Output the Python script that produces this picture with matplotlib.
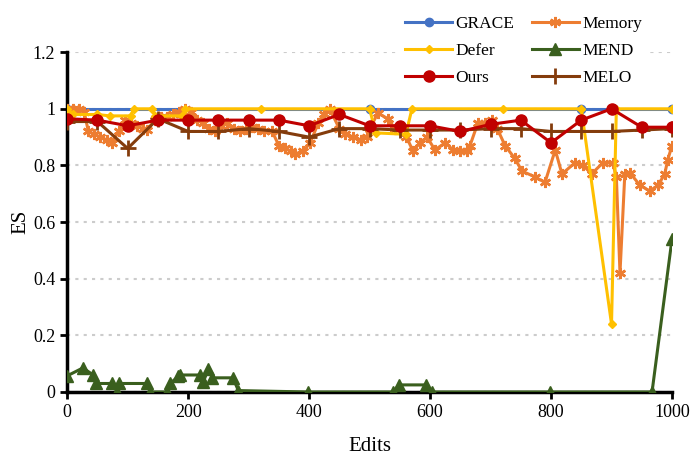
import matplotlib
matplotlib.use("Agg")
import matplotlib.pyplot as plt

plt.rcParams['font.family'] = ['Liberation Serif', 'DejaVu Serif']

grace_x = [0, 500, 850, 1000]
grace_y = [1.0, 1.0, 1.0, 1.0]

defer_x = [0, 10, 50, 70, 105, 110, 140, 145, 190, 195, 320, 500, 510, 560, 570, 720, 850, 900, 908, 1000]
defer_y = [1.0, 0.98, 0.98, 0.975, 0.975, 1.0, 1.0, 0.975, 0.975, 1.0, 1.0, 1.0, 0.915, 0.91, 1.0, 1.0, 1.0, 0.24, 1.0, 1.0]

ours_x = [0, 50, 100, 150, 200, 250, 300, 350, 400, 450, 500, 550, 600, 650, 700, 750, 800, 850, 900, 950, 1000]
ours_y = [0.965, 0.96, 0.94, 0.96, 0.96, 0.96, 0.96, 0.96, 0.94, 0.98, 0.94, 0.94, 0.94, 0.92, 0.945, 0.96, 0.88, 0.96, 1.0, 0.935, 0.935]

melo_x = [0, 50, 100, 150, 200, 250, 300, 350, 400, 450, 500, 550, 600, 650, 700, 750, 800, 850, 900, 950, 1000]
melo_y = [0.955, 0.955, 0.86, 0.965, 0.92, 0.92, 0.93, 0.92, 0.9, 0.93, 0.93, 0.925, 0.925, 0.925, 0.93, 0.93, 0.92, 0.92, 0.92, 0.925, 0.93]

mend_x = [0, 26, 43, 48, 74, 83, 86, 132, 137, 165, 170, 184, 186, 220, 225, 233, 240, 274, 283, 398, 539, 549, 593, 603, 798, 967, 1000]
mend_y = [0.057, 0.085, 0.06, 0.03, 0.03, 0.0, 0.03, 0.03, 0.0, 0.0, 0.03, 0.055, 0.06, 0.06, 0.035, 0.08, 0.05, 0.05, 0.005, 0.0, 0.0, 0.025, 0.025, 0.0, 0.0, 0.0, 0.54]

memory_x = [0, 10, 20, 28, 35, 45, 55, 65, 74, 85, 95, 105, 115, 125, 132, 145, 155, 165, 175, 185, 195,
            205, 215, 225, 235, 245, 255, 265, 275, 285, 295, 305, 315, 325, 339, 350, 360, 370, 377, 390, 402,
            415, 425, 434, 450, 460, 473, 485, 495, 500, 514, 530, 542, 561, 572, 583, 595, 608, 625, 638, 650,
            661, 666, 679, 690, 702, 711, 724, 740, 752, 773, 790, 807, 818, 840, 853, 867, 886, 902, 908, 914,
            922, 930, 947, 963, 977, 988, 993, 1000]
memory_y = [1.0, 1.0, 1.0, 0.99, 0.92, 0.91, 0.9, 0.89, 0.88, 0.92, 0.96, 0.95, 0.94, 0.93, 0.925, 0.96, 0.97, 0.97, 0.98, 0.99, 1.0,
            0.99, 0.96, 0.95, 0.93, 0.92, 0.94, 0.95, 0.93, 0.92, 0.93, 0.935, 0.93, 0.92, 0.92, 0.87, 0.86, 0.85, 0.84, 0.85, 0.88,
            0.95, 0.98, 1.0, 0.93, 0.91, 0.9, 0.89, 0.9, 0.93, 0.985, 0.965, 0.93, 0.9, 0.85, 0.88, 0.9, 0.855, 0.88, 0.855, 0.85,
            0.85, 0.87, 0.95, 0.95, 0.96, 0.93, 0.87, 0.825, 0.78, 0.76, 0.74, 0.855, 0.77, 0.81, 0.8, 0.77, 0.81, 0.81, 0.76, 0.42,
            0.77, 0.775, 0.73, 0.71, 0.73, 0.77, 0.82, 0.87]

x_ticks = [0, 200, 400, 600, 800, 1000]
y_ticks = [0, 0.2, 0.4, 0.6, 0.8, 1.0, 1.2]
y_labels = ['0', '0.2', '0.4', '0.6', '0.8', '1', '1.2']

fig = plt.figure(figsize=(7, 4.7), dpi=100)
ax = fig.add_axes([0.096, 0.166, 0.864, 0.723])

lw = 2.2
l_grace, = ax.plot(grace_x, grace_y, color='#4472C4', lw=lw, marker='o', ms=6, label='GRACE', zorder=3)
l_memory, = ax.plot(memory_x, memory_y, color='#ED7D31', lw=lw, marker=(6, 2, 0), ms=8, mew=1.8, label='Memory', zorder=3)
l_defer, = ax.plot(defer_x, defer_y, color='#FFC000', lw=lw, marker='D', ms=4, label='Defer', zorder=4)
l_mend, = ax.plot(mend_x, mend_y, color='#3A5F1E', lw=lw, marker='^', ms=8, label='MEND', zorder=3)
l_ours, = ax.plot(ours_x, ours_y, color='#C00000', lw=lw, marker='o', ms=8, label='Ours', zorder=5)
l_melo, = ax.plot(melo_x, melo_y, color='#843C0C', lw=lw, marker='+', ms=11, mew=2, label='MELO', zorder=4)

ax.set_xlim(0, 1000)
ax.set_ylim(0, 1.2)
ax.set_xticks(x_ticks)
ax.set_yticks(y_ticks)
ax.set_yticklabels(y_labels)
ax.tick_params(labelsize=13, width=2, length=5, direction='out', colors='black')
ax.yaxis.grid(True, linestyle=(0, (1.5, 2.5)), color='#CCCCCC', lw=1.5)
ax.set_axisbelow(True)
for s in ['top', 'right']:
    ax.spines[s].set_visible(False)
for s in ['left', 'bottom']:
    ax.spines[s].set_linewidth(2.5)
ax.set_xlabel('Edits', fontsize=15, labelpad=12)
ax.set_ylabel('ES', fontsize=15, labelpad=2)

leg = fig.legend(handles=[l_grace, l_defer, l_ours, l_memory, l_mend, l_melo], ncol=2,
                 loc='upper left', bbox_to_anchor=(0.569, 0.98), fontsize=12.5, frameon=True,
                 handlelength=2.7, columnspacing=1.0, labelspacing=0.6, handletextpad=0.2,
                 borderpad=0.4, borderaxespad=0.0)
leg.get_frame().set_edgecolor('none')
leg.get_frame().set_facecolor('white')
leg.get_frame().set_alpha(1)

fig.savefig('out.png', dpi=100)
